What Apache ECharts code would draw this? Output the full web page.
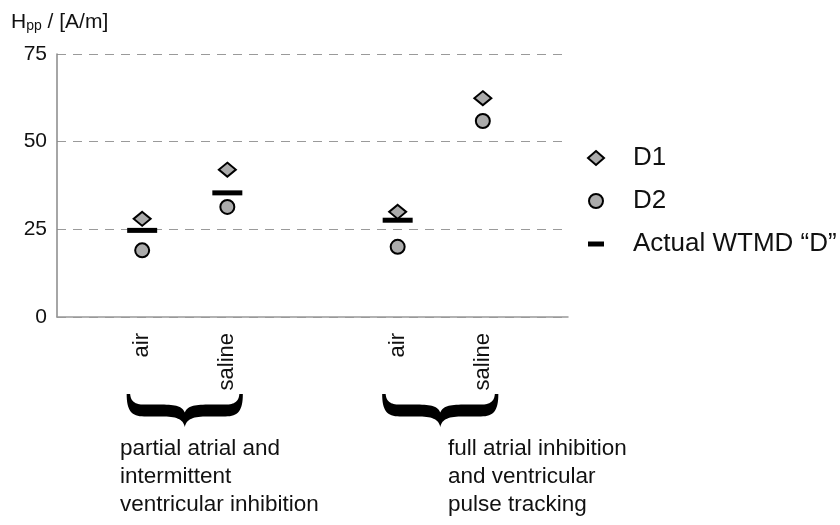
<!DOCTYPE html>
<html>
<head>
<meta charset="utf-8">
<script src="https://cdn.jsdelivr.net/npm/echarts@6/dist/echarts.min.js"></script>
<style>
html,body{margin:0;padding:0;background:#fff;}
#main{width:840px;height:525px;}
</style>
</head>
<body>
<div id="main"></div>
<script>
const categories = ['', 'air', 'saline', '', 'air', 'saline', ''];
const d1Values = [null, 28, 42, null, 30, 62.4, null];
const d2Values = [null, 19, 31.4, null, 20, 55.9, null];
const actualValues = [null, 24.7, 35.4, null, 27.6, null, null];
const yTicks = [0, 25, 50, 75];
const seriesNames = ['D1', 'D2', 'Actual WTMD \u201cD\u201d'];
const groupLabels = [
  'partial atrial and\nintermittent\nventricular inhibition',
  'full atrial inhibition\nand ventricular\npulse tracking'
];
const groupMembers = [[1, 2], [4, 5]];

const FONT = '"Liberation Sans", Arial, Helvetica, sans-serif';
const toPairs = arr => arr.map((v, i) => [i, v]).filter(p => p[1] != null);

const chart = echarts.init(document.getElementById('main'));
const option = {
  backgroundColor: '#fff',
  animation: false,
  textStyle: { fontFamily: FONT, color: '#111' },
  title: {
    text: '{h|H}{s|pp}{h| / [A/m]}',
    left: 11,
    top: 12,
    padding: 0,
    textStyle: {
      fontWeight: 'normal',
      rich: {
        h: { fontFamily: FONT, fontSize: 21, fontWeight: 'normal', color: '#111', verticalAlign: 'bottom' },
        s: { fontFamily: FONT, fontSize: 14, fontWeight: 'normal', color: '#111', verticalAlign: 'bottom' }
      }
    }
  },
  legend: {
    orient: 'vertical',
    left: 587,
    top: 145,
    padding: 0,
    itemWidth: 16,
    itemHeight: 14,
    itemGap: 17,
    textStyle: { fontFamily: FONT, fontSize: 26, color: '#111', padding: [0, 0, 0, 24] },
    data: [
      { name: seriesNames[0] },
      { name: seriesNames[1] },
      { name: seriesNames[2], icon: 'path://M0,0H16V5H0Z' }
    ]
  },
  grid: { left: 57, right: 272, top: 54, bottom: 208, containLabel: false, outerBoundsMode: 'none' },
  xAxis: {
    type: 'category',
    data: categories,
    boundaryGap: false,
    axisLine: { show: true, lineStyle: { color: '#999', width: 1.5 } },
    axisTick: { show: false },
    splitLine: { show: false },
    axisLabel: {
      rotate: 90,
      interval: 0,
      margin: 16,
      fontFamily: FONT,
      fontSize: 22,
      color: '#111'
    }
  },
  yAxis: {
    type: 'value',
    min: yTicks[0],
    max: yTicks[yTicks.length - 1],
    interval: 25,
    axisLine: { show: true, lineStyle: { color: '#888', width: 1.5 } },
    axisTick: { show: false },
    axisLabel: { margin: 10, fontFamily: FONT, fontSize: 21, color: '#111' },
    splitLine: { show: true, lineStyle: { type: [9, 7], color: '#9a9a9a', width: 1 } }
  },
  series: [
    {
      name: seriesNames[0], type: 'scatter', data: toPairs(d1Values),
      symbol: 'diamond', symbolSize: [17, 14], z: 3,
      itemStyle: { color: '#ababab', borderColor: '#000', borderWidth: 2, opacity: 1 }
    },
    {
      name: seriesNames[1], type: 'scatter', data: toPairs(d2Values),
      symbol: 'circle', symbolSize: 14, z: 3,
      itemStyle: { color: '#ababab', borderColor: '#000', borderWidth: 2, opacity: 1 }
    },
    {
      name: seriesNames[2], type: 'scatter', data: toPairs(actualValues),
      symbol: 'rect', symbolSize: [30, 5], z: 2,
      itemStyle: { color: '#000', borderWidth: 0, opacity: 1 }
    }
  ]
};
chart.setOption(option);

// Brace outline: cubic Bezier segments sampled into a polygon
function braceOutline(x0, y0, W, H) {
  const w = W / 2;
  const P = (fx, fy) => [x0 + fx * w, y0 + fy * H];
  const segs = [
    ['M', P(0, 0)],
    ['C', P(0, 0.5), P(0.08, 0.68), P(0.3, 0.68)],
    ['L', P(0.6, 0.68)],
    ['C', P(0.85, 0.68), P(0.97, 0.75), P(1, 1)],
    ['C', P(1.03, 0.75), P(1.15, 0.68), P(1.4, 0.68)],
    ['L', P(1.7, 0.68)],
    ['C', P(1.92, 0.68), P(2, 0.5), P(2, 0)],
    ['L', P(1.94, 0)],
    ['C', P(1.93, 0.22), P(1.86, 0.32), P(1.7, 0.32)],
    ['L', P(1.4, 0.32)],
    ['C', P(1.15, 0.32), P(1.04, 0.38), P(1, 0.56)],
    ['C', P(0.96, 0.38), P(0.85, 0.32), P(0.6, 0.32)],
    ['L', P(0.3, 0.32)],
    ['C', P(0.14, 0.32), P(0.07, 0.22), P(0.06, 0)]
  ];
  const pts = [];
  let cur = null;
  segs.forEach(s => {
    if (s[0] === 'M' || s[0] === 'L') {
      cur = s[1];
      pts.push(cur);
    } else {
      const p0 = cur, p1 = s[1], p2 = s[2], p3 = s[3];
      for (let i = 1; i <= 16; i++) {
        const t = i / 16, u = 1 - t;
        pts.push([
          u * u * u * p0[0] + 3 * u * u * t * p1[0] + 3 * u * t * t * p2[0] + t * t * t * p3[0],
          u * u * u * p0[1] + 3 * u * u * t * p1[1] + 3 * u * t * t * p2[1] + t * t * t * p3[1]
        ]);
      }
      cur = p3;
    }
  });
  return pts;
}
const graphics = [];
const textLefts = [120, 448];
groupMembers.forEach((g, k) => {
  const xa = chart.convertToPixel({ xAxisIndex: 0 }, g[0]);
  const xb = chart.convertToPixel({ xAxisIndex: 0 }, g[1]);
  const mid = (xa + xb) / 2;
  const W = (xb - xa) + 31;
  graphics.push({
    type: 'polygon',
    shape: { points: braceOutline(mid - W / 2, 394, W, 33) },
    style: { fill: '#000' }
  });
  graphics.push({
    type: 'text',
    left: textLefts[k],
    top: 435,
    style: {
      text: groupLabels[k],
      font: '22.5px ' + FONT,
      lineHeight: 28,
      fill: '#111'
    }
  });
});
chart.setOption({ graphic: graphics });
</script>
</body>
</html>
